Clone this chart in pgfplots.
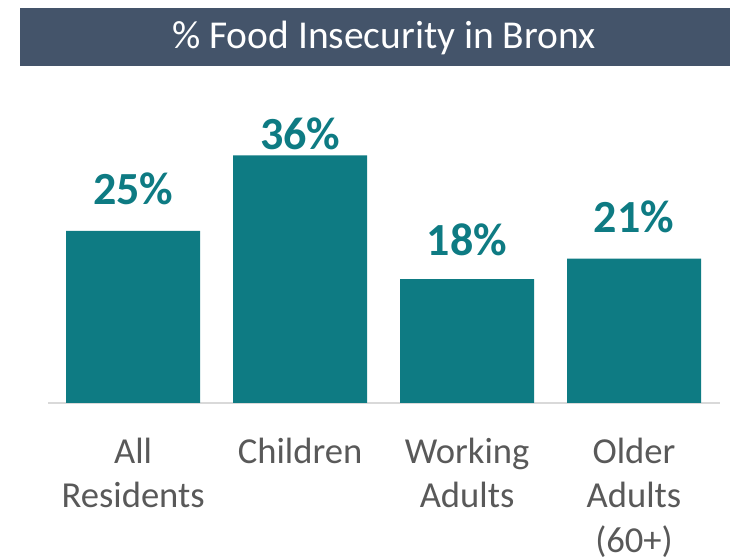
\documentclass[border=0pt]{standalone}
\usepackage{pgfplots}
\usepackage{pgfplotstable}
\pgfplotsset{compat=1.18}
\usepackage{fontspec}
\setmainfont{Carlito}
\definecolor{titlebar}{HTML}{44546A}
\definecolor{teal}{HTML}{0E7B83}
\definecolor{labgrey}{HTML}{595959}
\definecolor{axgrey}{HTML}{D9D9D9}
\pgfplotstableread{
x y off
0 25 26
1 36 6
2 18 24
3 21 26
}\datatable
\begin{document}
\begin{tikzpicture}
\useasboundingbox (0pt,0pt) rectangle (730pt,559pt);
\fill[titlebar] (20pt,493pt) rectangle (730pt,551pt);
\node[anchor=base, text=white, font=\fontsize{39.5}{45}\selectfont, inner sep=0pt] at (384pt,510pt) {\% Food Insecurity in Bronx};
\begin{axis}[
  at={(48pt,156pt)}, anchor=south west,
  scale only axis, width=672pt, height=275.2pt,
  xmin=-0.51, xmax=3.515, ymin=0, ymax=40,
  clip=false,
  hide y axis,
  axis x line*=bottom,
  x axis line style={draw=axgrey, line width=1.2pt},
  xtick={0,1,2,3},
  xticklabels={All\\Residents, Children, Working\\Adults, Older\\Adults\\(60+)},
  major tick length=0pt,
  xtick style={draw=none},
  xticklabel style={align=center, text=labgrey, font=\fontsize{36.6}{44.2}\selectfont, inner sep=0pt, anchor=north, yshift=-35pt},
  /pgf/number format/assume math mode=true,
]
\addplot[ybar, bar width=134pt, fill=teal, draw=none,
  visualization depends on={\thisrow{off} \as \off},
  nodes near coords={\pgfmathprintnumber{\pgfplotspointmeta}\%},
  every node near coord/.append style={anchor=base, yshift=\off, inner sep=0pt, text=teal, font=\bfseries\fontsize{46}{50}\selectfont},
] table[x=x, y=y] {\datatable};
\end{axis}
\end{tikzpicture}
\end{document}
